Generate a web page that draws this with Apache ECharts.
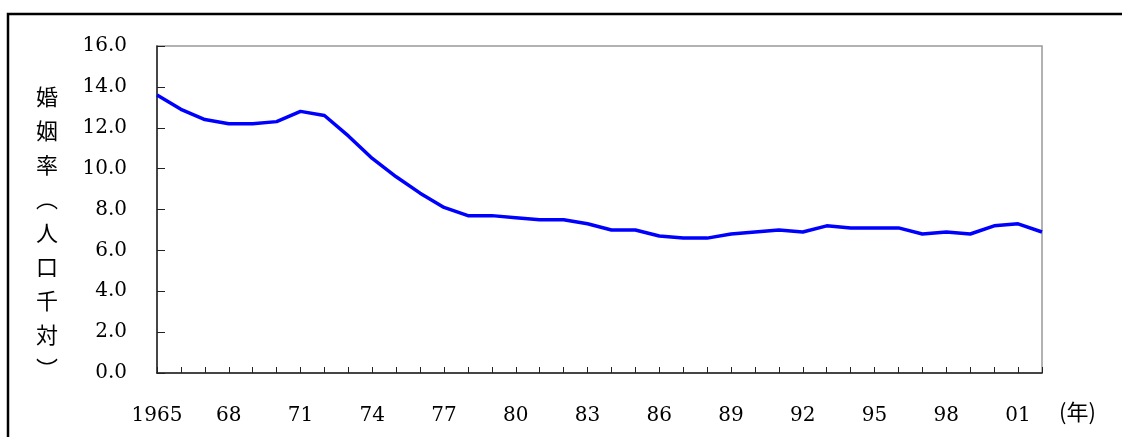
<!DOCTYPE html>
<html>
<head>
<meta charset="utf-8">
<script src="https://cdn.jsdelivr.net/npm/echarts@6/dist/echarts.min.js"></script>
<style>
  html, body { margin: 0; padding: 0; background: #fff; }
  #chart { width: 1122px; height: 437px; }
</style>
</head>
<body>
<div id="chart"></div>
<script>
// 年 (1965-2002), ラベルは3年ごと
var years = ["1965", "66", "67", "68", "69", "70", "71", "72", "73", "74",
  "75", "76", "77", "78", "79", "80", "81", "82", "83", "84",
  "85", "86", "87", "88", "89", "90", "91", "92", "93", "94",
  "95", "96", "97", "98", "99", "00", "01", "02"];

// 婚姻率（人口千対）
var marriageRate = [13.6, 12.9, 12.4, 12.2, 12.2, 12.3, 12.8, 12.6, 11.6, 10.5,
  9.6, 8.8, 8.1, 7.7, 7.7, 7.6, 7.5, 7.5, 7.3, 7.0,
  7.0, 6.7, 6.6, 6.6, 6.8, 6.9, 7.0, 6.9, 7.2, 7.1,
  7.1, 7.1, 6.8, 6.9, 6.8, 7.2, 7.3, 6.9];

var yTicks = { min: 0, max: 16, interval: 2 };

var yTitle = "婚姻率︵人口千対︶";

var myChart = echarts.init(document.getElementById("chart"));

var option = {
  backgroundColor: "#fff",
  animation: false,
  grid: {
    left: 157,
    right: 80,
    top: 46,
    bottom: 64,
    show: true,
    borderColor: "#999",
    borderWidth: 1.5,
  },
  xAxis: {
    type: "category",
    data: years,
    boundaryGap: false,
    axisLine: { lineStyle: { color: "#222", width: 1.5 } },
    axisTick: { inside: true, length: 6, interval: 0, lineStyle: { color: "#222" } },
    axisLabel: {
      interval: 2,
      margin: 33,
      color: "#000",
      fontFamily: "DejaVu Serif",
      fontSize: 20,
    },
    splitLine: { show: false },
  },
  yAxis: {
    type: "value",
    min: yTicks.min,
    max: yTicks.max,
    interval: yTicks.interval,
    axisLine: { show: true, lineStyle: { color: "#222", width: 1.5 } },
    axisTick: { show: true, inside: true, length: 8, lineStyle: { color: "#222" } },
    axisLabel: {
      margin: 30,
      color: "#000",
      fontFamily: "DejaVu Serif",
      fontSize: 20,
      formatter: function (v) { return v.toFixed(1); },
    },
    splitLine: { show: false },
  },
  graphic: [
    {
      // 外枠
      type: "rect",
      silent: true,
      shape: { x: 8, y: 14, width: 1300, height: 600 },
      style: { fill: "none", stroke: "#000", lineWidth: 2.5 },
    },
    {
      type: "text",
      left: 36,
      top: 80,
      style: {
        text: yTitle.split("").join("\n"),
        fontFamily: "Noto Sans CJK JP",
        fontSize: 22,
        lineHeight: 34,
        fill: "#000",
        align: "center",
      },
    },
    {
      type: "text",
      left: 1059,
      top: 401,
      style: {
        text: "(年)",
        fontFamily: "Noto Sans CJK JP",
        fontSize: 22,
        fill: "#000",
      },
    },
  ],
  series: [
    {
      type: "line",
      data: marriageRate,
      symbol: "none",
      lineStyle: { color: "#0000ff", width: 3.5 },
    },
  ],
};

myChart.setOption(option);
window.onresize = function () {
  myChart.resize();
};
</script>
</body>
</html>
